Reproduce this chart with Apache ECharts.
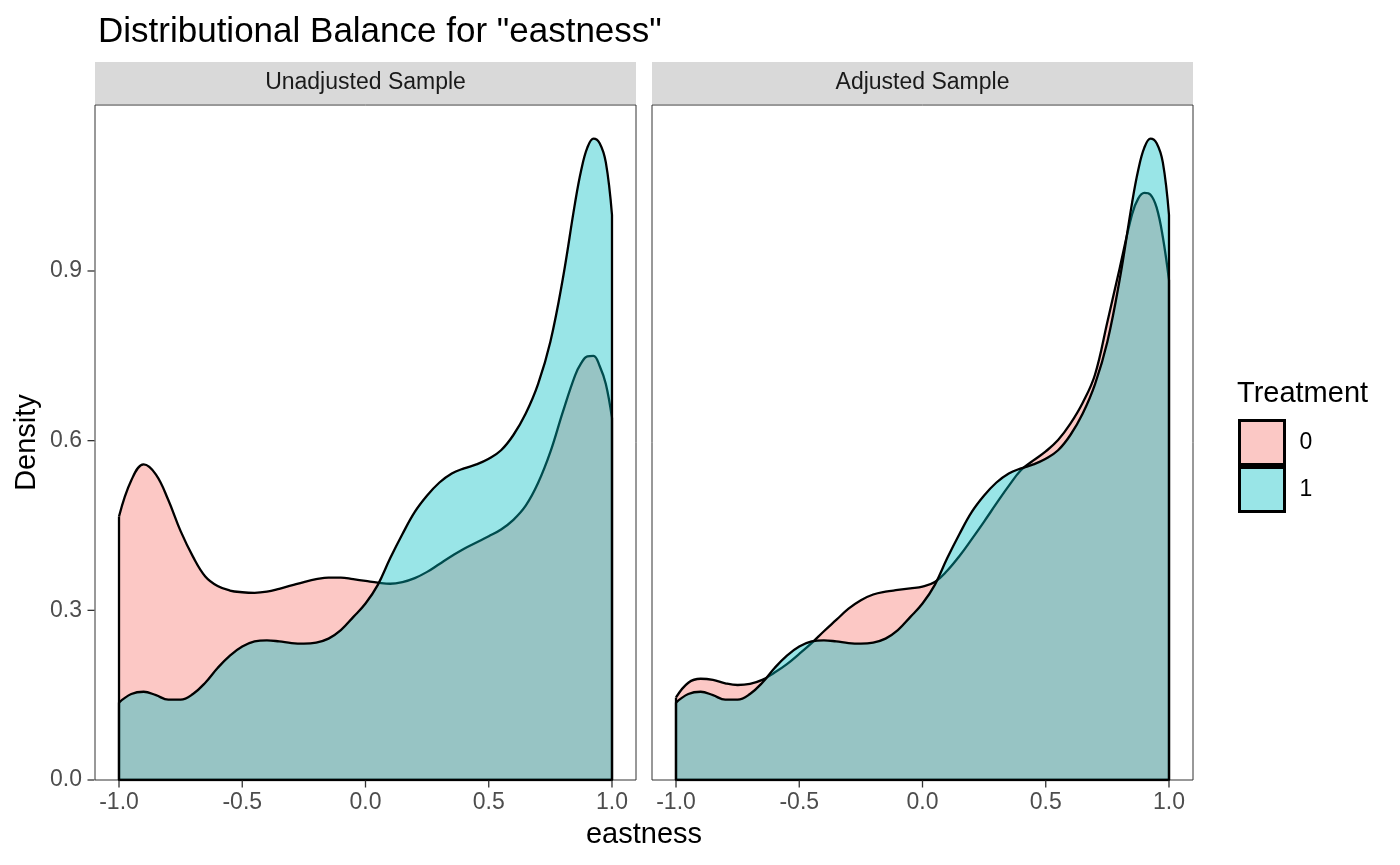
<!DOCTYPE html>
<html><head><meta charset="utf-8">
<script src="https://cdn.jsdelivr.net/npm/echarts@6/dist/echarts.min.js"></script>
<style>html,body{margin:0;padding:0;background:#fff}#c{width:1400px;height:865px}</style>
</head><body><div id="c"></div>
<script>
const xGrid = [-1,-0.95,-0.9,-0.85,-0.8,-0.75,-0.7,-0.65,-0.6,-0.55,-0.5,-0.45,-0.4,-0.35,-0.3,-0.25,-0.2,-0.15,-0.1,-0.05,0,0.05,0.1,0.15,0.2,0.25,0.3,0.35,0.4,0.45,0.5,0.55,0.6,0.65,0.7,0.75,0.8,0.85,0.875,0.9,0.925,0.95,0.975,1];
// Treatment 0, unadjusted sample
const unadj0 = [0.466,0.530,0.558,0.540,0.495,0.440,0.395,0.360,0.343,0.335,0.332,0.331,0.333,0.338,0.344,0.350,0.355,0.358,0.358,0.355,0.352,0.349,0.347,0.350,0.357,0.368,0.382,0.396,0.409,0.420,0.431,0.443,0.460,0.485,0.525,0.580,0.650,0.715,0.737,0.749,0.750,0.732,0.700,0.640];
// Treatment 0, adjusted sample
const adj0 = [0.146,0.172,0.179,0.177,0.171,0.168,0.170,0.177,0.190,0.205,0.223,0.242,0.263,0.283,0.303,0.318,0.328,0.333,0.336,0.339,0.342,0.350,0.370,0.396,0.426,0.457,0.489,0.520,0.548,0.565,0.581,0.601,0.630,0.667,0.717,0.810,0.905,1.000,1.028,1.038,1.035,1.012,0.960,0.884];
// Treatment 1 (same in both panels)
const treat1 = [0.137,0.152,0.156,0.150,0.142,0.142,0.152,0.172,0.198,0.220,0.236,0.245,0.247,0.245,0.242,0.241,0.243,0.250,0.265,0.288,0.312,0.345,0.392,0.435,0.474,0.503,0.526,0.542,0.551,0.558,0.568,0.583,0.610,0.648,0.700,0.775,0.885,1.020,1.078,1.118,1.134,1.126,1.092,0.999];
const panels = ['Unadjusted Sample','Adjusted Sample'];
const groups = ['0','1'];
const xTicks = [-1,-0.5,0,0.5,1];
const yTicks = [0,0.3,0.6,0.9];

const X_MIN = -1.0974, X_MAX = 1.0974, Y_MAX = 1.1935;
const FONT = '"Liberation Sans", Arial, sans-serif';
const fills = {'0':'rgba(248,118,109,0.4)','1':'rgba(0,191,196,0.4)'};
const solid = {'0':'#FBC8C5','1':'#99E5E7'};
const pts = arr => xGrid.map((x,i)=>[x,arr[i]]);
const outline = arr => [[xGrid[0],arr[0]],[xGrid[0],0],[xGrid[xGrid.length-1],0],[xGrid[xGrid.length-1],arr[arr.length-1]]];

const panelData = [[unadj0,treat1],[adj0,treat1]];
const series = [];
panelData.forEach((pd,p)=>{
  pd.forEach((arr,g)=>{
    series.push({name:groups[g],type:'line',xAxisIndex:p,yAxisIndex:p,data:pts(arr),smooth:0.4,showSymbol:false,symbol:'none',
      lineStyle:{color:'#000',width:2.3},areaStyle:{color:fills[groups[g]],opacity:1},itemStyle:{color:solid[groups[g]]},
      emphasis:{disabled:true},silent:true,z:2+g*2});
    series.push({name:'edge'+p+g,type:'line',xAxisIndex:p,yAxisIndex:p,data:outline(arr),smooth:false,showSymbol:false,symbol:'none',
      lineStyle:{color:'#000',width:2.3},emphasis:{disabled:true},silent:true,z:3+g*2});
  });
  // axis tick marks (outward), positioned via the axes' own scales
  series.push({name:'xticks'+p,type:'custom',xAxisIndex:p,yAxisIndex:p,silent:true,z:10,clip:false,
    data:xTicks.map(v=>[v,0]),
    renderItem:(params,api)=>{const c=api.coord([api.value(0),api.value(1)]);
      return {type:'line',shape:{x1:c[0],y1:c[1]+0.5,x2:c[0],y2:c[1]+7.5},style:{stroke:'#333',lineWidth:1.3}};}});
  if(p===0){
    series.push({name:'yticks',type:'custom',xAxisIndex:0,yAxisIndex:0,silent:true,z:10,clip:false,
      data:yTicks.map(v=>[X_MIN,v]),
      renderItem:(params,api)=>{const c=api.coord([api.value(0),api.value(1)]);
        return {type:'line',shape:{x1:c[0]-7.5,y1:c[1],x2:c[0]-0.5,y2:c[1]},style:{stroke:'#333',lineWidth:1.3}};}});
  }
});

const grids = [{left:95,top:105,width:541,height:675},{left:652,top:105,width:541,height:675}];
const option = {
  animation:false,
  backgroundColor:'#fff',
  textStyle:{fontFamily:FONT},
  title:[
    {text:'Distributional Balance for "eastness"',left:93,top:10,textStyle:{fontFamily:FONT,fontSize:35,fontWeight:'normal',color:'#000'}},
    {text:'Treatment',left:1237,top:379,padding:0,textStyle:{fontFamily:FONT,fontSize:29,fontWeight:'normal',color:'#000'}}
  ],
  legend:{data:[{name:'0',itemStyle:{color:solid['0'],borderColor:'#000',borderWidth:3}},{name:'1',itemStyle:{color:solid['1'],borderColor:'#000',borderWidth:3}}],
    orient:'vertical',left:1238,top:419,padding:0,itemWidth:45,itemHeight:44,itemGap:0,icon:'rect',selectedMode:false,
    textStyle:{fontFamily:FONT,fontSize:23,color:'#000',padding:[0,0,0,10]}},
  grid:grids.map(g=>Object.assign({show:true,borderColor:'#333',borderWidth:1,backgroundColor:'#fff',containLabel:false},g)),
  xAxis:[0,1].map(i=>({type:'value',gridIndex:i,min:X_MIN,max:X_MAX,
    axisLine:{show:false,onZero:false},splitLine:{show:false},
    axisTick:{show:false},
    axisLabel:{show:true,customValues:xTicks,fontSize:23,color:'#4D4D4D',margin:11,fontFamily:FONT,formatter:v=>v.toFixed(1)}})),
  yAxis:[0,1].map(i=>({type:'value',gridIndex:i,min:0,max:Y_MAX,
    axisLine:{show:false,onZero:false},splitLine:{show:false},
    axisTick:{show:false},
    axisLabel:{show:i===0,customValues:yTicks,fontSize:23,color:'#4D4D4D',margin:13,fontFamily:FONT,formatter:v=>v.toFixed(1)},
    name:i===0?'Density':'',nameLocation:'middle',nameGap:54,nameRotate:90,
    nameTextStyle:{fontSize:29,color:'#000',fontFamily:FONT}})),
  graphic:[
    {type:'rect',shape:{x:95,y:62,width:541,height:42},style:{fill:'#D9D9D9'},silent:true},
    {type:'rect',shape:{x:652,y:62,width:541,height:42},style:{fill:'#D9D9D9'},silent:true},
    {type:'text',x:365.5,y:83,style:{text:panels[0],fill:'#1A1A1A',font:'23px '+FONT,textAlign:'center',textVerticalAlign:'middle'},silent:true},
    {type:'text',x:922.5,y:83,style:{text:panels[1],fill:'#1A1A1A',font:'23px '+FONT,textAlign:'center',textVerticalAlign:'middle'},silent:true},
    {type:'text',x:644,y:835,style:{text:'eastness',fill:'#000',font:'29px '+FONT,textAlign:'center',textVerticalAlign:'middle'},silent:true}
  ],
  series:series
};
const chart = echarts.init(document.getElementById('c'),null,{renderer:'canvas'});
chart.setOption(option);
</script></body></html>
